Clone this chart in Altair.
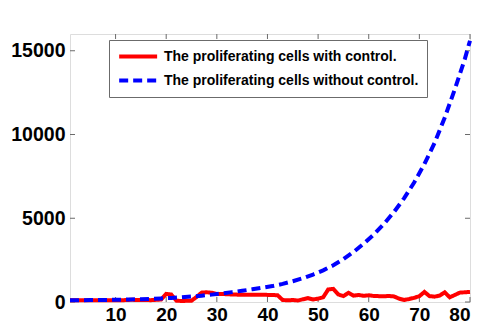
import altair as alt
import pandas as pd

# ---- data ----
series_names = ["The proliferating cells with control.",
                "The proliferating cells without control."]

red_x = [1, 3, 5, 7, 9, 11, 13, 15, 17, 19, 20, 21, 22, 23, 24, 25, 26, 27, 28, 29,
         30, 31, 33, 35, 37, 39, 41, 42, 43, 44, 45, 46, 47, 48, 49, 50, 51, 52, 53,
         54, 55, 56, 57, 58, 59, 60, 61, 62, 63, 64, 65, 66, 67, 68, 69, 70, 71, 72,
         73, 74, 75, 76, 77, 78, 79, 80]
red_y = [100, 100, 110, 100, 110, 100, 130, 120, 110, 150, 480, 450, 80, 60, 70, 80,
         300, 560, 580, 550, 470, 480, 450, 430, 440, 430, 420, 400, 120, 100, 120, 90,
         160, 230, 150, 200, 280, 750, 780, 450, 350, 550, 380, 420, 370, 400, 360, 350,
         340, 360, 330, 200, 120, 180, 250, 350, 600, 350, 320, 380, 580, 280, 420, 560,
         580, 600]

blue_x = [1, 3, 5, 7, 9, 11, 13, 15, 17, 19, 21, 23, 25, 27, 29, 31, 33, 35, 37, 39,
          41, 43, 45, 47, 49, 51, 53, 55, 57, 59, 61, 63, 65, 67, 69, 71, 73, 75, 77,
          79, 80]
blue_y = [100, 105, 112, 120, 130, 140, 155, 170, 190, 215, 245, 280, 325, 380, 440,
          510, 590, 670, 760, 850, 950, 1080, 1240, 1420, 1640, 1890, 2190, 2560, 2990,
          3480, 4030, 4660, 5380, 6200, 7150, 8240, 9490, 11000, 12700, 14530, 15600]

x_ticks = [10, 20, 30, 40, 50, 60, 70, 80]
y_ticks = [0, 5000, 10000, 15000]

df = pd.concat([
    pd.DataFrame({"x": red_x, "y": red_y, "s": series_names[0]}),
    pd.DataFrame({"x": blue_x, "y": blue_y, "s": series_names[1]}),
])
xt = pd.DataFrame({"t": x_ticks})
yt = pd.DataFrame({"t": y_ticks})

FONT = "Liberation Sans"
FRAME = "#6b6b6b"

xscale = alt.Scale(domain=[1, 80], nice=False, zero=False)
yscale = alt.Scale(domain=[0, 16000], nice=False)

# legend symbol: a horizontal stroke drawn to the right of a small slot
leg = alt.Legend(orient="none", legendX=39, legendY=6, title=None,
                 fillColor="white", strokeColor=FRAME, padding=8,
                 symbolType="M-1,0H5", symbolSize=160, symbolStrokeWidth=4,
                 labelFont=FONT, labelFontWeight="bold", labelFontSize=14,
                 labelColor="black", labelOffset=30, rowPadding=7, labelLimit=400)

lines = alt.Chart(df).mark_line(strokeWidth=4, strokeCap="butt").encode(
    x=alt.X("x:Q", scale=xscale,
            axis=alt.Axis(title=None, values=x_ticks, ticks=False, domain=False,
                          grid=False, labelFont=FONT, labelFontWeight="bold",
                          labelFontSize=19, labelColor="black", labelPadding=3,
                          labelOverlap=False, format="d")),
    y=alt.Y("y:Q", scale=yscale,
            axis=alt.Axis(title=None, values=y_ticks, ticks=False, domain=False,
                          grid=False, labelFont=FONT, labelFontWeight="bold",
                          labelFontSize=19.5, labelColor="black", labelPadding=5,
                          labelFlush=False, format="d")),
    color=alt.Color("s:N", scale=alt.Scale(domain=series_names, range=["#ff0000", "#0000ff"]),
                    legend=leg),
    strokeDash=alt.StrokeDash("s:N", scale=alt.Scale(domain=series_names, range=[[1, 0], [9, 5]]),
                              legend=leg),
)

tick_len = 5
xt_bottom = alt.Chart(xt).mark_rule(color=FRAME, strokeWidth=1).encode(
    x=alt.X("t:Q", scale=xscale), y=alt.value(268), y2=alt.value(268 - tick_len))
xt_top = alt.Chart(xt).mark_rule(color=FRAME, strokeWidth=1).encode(
    x=alt.X("t:Q", scale=xscale), y=alt.value(0), y2=alt.value(tick_len))
yt_left = alt.Chart(yt).mark_rule(color=FRAME, strokeWidth=1).encode(
    y=alt.Y("t:Q", scale=yscale), x=alt.value(0), x2=alt.value(tick_len))
yt_right = alt.Chart(yt).mark_rule(color=FRAME, strokeWidth=1).encode(
    y=alt.Y("t:Q", scale=yscale), x=alt.value(400), x2=alt.value(400 - tick_len))

chart = alt.layer(xt_bottom, xt_top, yt_left, yt_right, lines).properties(
    width=400, height=268,
    autosize=alt.AutoSizeParams(type="none"),
    padding={"left": 62, "top": 26, "right": 2, "bottom": 21},
).configure_view(stroke=FRAME, strokeWidth=1.5).configure(background="white")

chart.save("out.html", embed_options={"renderer": "svg", "actions": False})
